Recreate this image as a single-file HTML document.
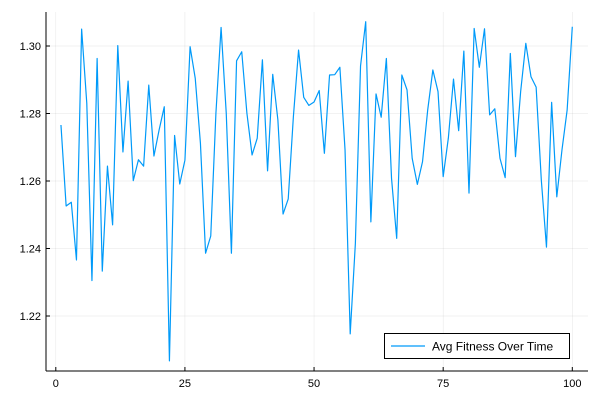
<!DOCTYPE html>
<html><head><meta charset="utf-8"><style>
body{margin:0;background:#fff}
svg{display:block;font-family:"Liberation Sans","DejaVu Sans",sans-serif}
</style></head><body>
<svg id="chart" width="600" height="400" viewBox="0 0 600 400" xmlns="http://www.w3.org/2000/svg"></svg>
<script>
const generations = Array.from({length:100},(_,i)=>i+1);
const avgFitness = [1.2766,1.2526,1.2537,1.2366,1.3050,1.2830,1.2305,1.2963,1.2333,1.2644,
1.2470,1.3001,1.2686,1.2896,1.2601,1.2663,1.2644,1.2884,1.2674,1.2751,
1.2820,1.2067,1.2735,1.2591,1.2662,1.2998,1.2904,1.2712,1.2386,1.2437,
1.2801,1.3055,1.2801,1.2386,1.2956,1.2983,1.2801,1.2677,1.2727,1.2959,
1.2630,1.2916,1.2781,1.2502,1.2547,1.2791,1.2988,1.2848,1.2824,1.2834,
1.2868,1.2682,1.2914,1.2915,1.2937,1.2692,1.2147,1.2415,1.2941,1.3072,
1.2479,1.2858,1.2789,1.2963,1.2608,1.2430,1.2914,1.2870,1.2667,1.2590,
1.2657,1.2810,1.2929,1.2865,1.2613,1.2727,1.2902,1.2749,1.2985,1.2564,
1.3052,1.2937,1.3051,1.2796,1.2814,1.2667,1.2610,1.2978,1.2672,1.2865,
1.3008,1.2909,1.2878,1.2603,1.2404,1.2833,1.2553,1.2692,1.2810,1.3057];
const xTicks = [0,25,50,75,100];
const yTicks = [1.22,1.24,1.26,1.28,1.30];
const yTickLabels = ["1.22","1.24","1.26","1.28","1.30"];

const svg=document.getElementById('chart');
const NS='http://www.w3.org/2000/svg';
const L=46,R=588,T=12,B=371;
const xs=v=>55.8+(572.3-55.8)*v/100;
const ys=v=>46+(1.30-v)*3375;
function mk(tag,attrs,parent){const e=document.createElementNS(NS,tag);for(const k in attrs)e.setAttribute(k,attrs[k]);(parent||svg).appendChild(e);return e;}

const grid=mk('g',{});


xTicks.forEach(t=>{const l=mk('line',{x1:xs(t),x2:xs(t),y1:T,y2:B,stroke:'#000','stroke-opacity':0.1,'stroke-width':0.5},grid);

});
yTicks.forEach(t=>{const l=mk('line',{x1:L,x2:R,y1:ys(t),y2:ys(t),stroke:'#000','stroke-opacity':0.1,'stroke-width':0.5},grid);

});

const ax=mk('g',{stroke:'#000','stroke-width':1});


mk('line',{x1:L,x2:L,y1:T,y2:B},ax);
mk('line',{x1:L,x2:R,y1:B,y2:B},ax);
xTicks.forEach(t=>{mk('line',{x1:xs(t),x2:xs(t),y1:B,y2:B-4},ax);
const tx=mk('text',{x:xs(t),y:B+16,'text-anchor':'middle','font-size':11,fill:'#000',stroke:'none'});tx.textContent=t;

});
yTicks.forEach((t,i)=>{mk('line',{x1:L,x2:L+4,y1:ys(t),y2:ys(t)},ax);
const tx=mk('text',{x:L-5,y:ys(t)+4,'text-anchor':'end','font-size':11,fill:'#000',stroke:'none'});tx.textContent=yTickLabels[i];

});

const pts=generations.map((g,i)=>xs(g).toFixed(2)+','+ys(avgFitness[i]).toFixed(2)).join(' ');
const line=mk('polyline',{points:pts,fill:'none',stroke:'#009af9','stroke-width':1.2,'stroke-linejoin':'round'});



const lg=mk('g',{});


mk('rect',{x:384.5,y:333.5,width:185,height:25,fill:'#fff',stroke:'#000','stroke-width':1},lg);
mk('line',{x1:391,x2:425,y1:346,y2:346,stroke:'#009af9','stroke-width':1.2},lg);
const lt=mk('text',{x:432,y:350.5,'font-size':12,fill:'#000'},lg);lt.textContent='Avg Fitness Over Time';


</script>
</body></html>
